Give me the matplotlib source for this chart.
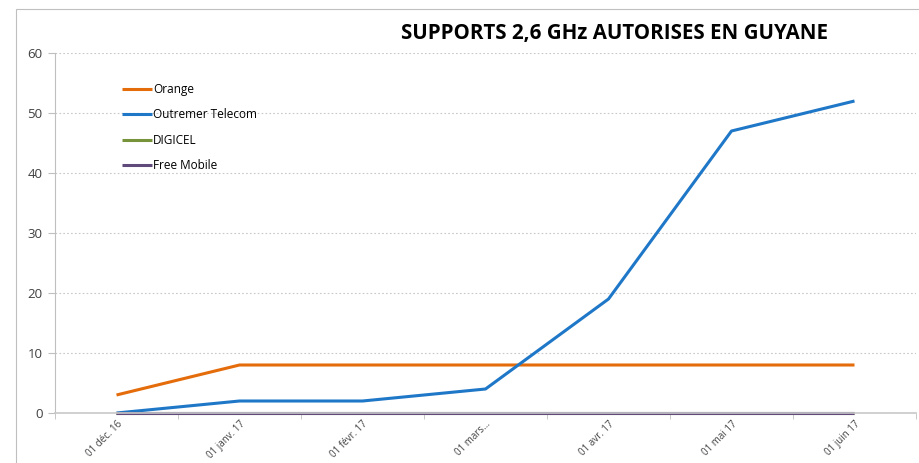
import matplotlib
matplotlib.use("Agg")
import matplotlib.pyplot as plt
from matplotlib.patches import Rectangle

months = ["01 déc. 16", "01 janv. 17", "01 févr. 17", "01 mars...",
          "01 avr. 17", "01 mai 17", "01 juin 17"]
orange = [3, 8, 8, 8, 8, 8, 8]
outremer = [0, 2, 2, 4, 19, 47, 52]
digicel = [0, 0, 0, 0, 0, 0, 0]
free_mobile = [0, 0, 0, 0, 0, 0, 0]

series = [
    ("Orange", orange, "#E46C0A"),
    ("Outremer Telecom", outremer, "#1F77C8"),
    ("DIGICEL", digicel, "#77933C"),
    ("Free Mobile", free_mobile, "#604A7B"),
]

plt.rcParams['font.family'] = ['Open Sans', 'DejaVu Sans']

fig = plt.figure(figsize=(9.2, 4.63), dpi=100)
# chart frame (only top and left edges fall inside the picture)
fig.patches.append(Rectangle((16 / 920, -0.05), 1.0, 1 - 9 / 463 + 0.05,
                             transform=fig.transFigure, fill=False,
                             edgecolor="#BFBFBF", linewidth=0.8))

ax = fig.add_axes([55 / 920, 1 - 413 / 463, 861 / 920, 360 / 463])
x = list(range(len(months)))
for name, vals, color in series:
    ax.plot(x, vals, color=color, linewidth=2.2, label=name, clip_on=False,
            solid_capstyle="butt")

ax.set_xlim(-0.5, len(months) - 0.5)
ax.set_ylim(0, 60)
ax.set_yticks(range(0, 61, 10))
ax.yaxis.grid(True, linestyle=(0, (1.5, 2)), color="#C8C8C8", linewidth=0.8)
ax.set_axisbelow(True)

ax.set_xticks(x)
ax.set_xticklabels(months, rotation=45, ha="right", rotation_mode="anchor",
                   fontsize=7, color="#404040")
ax.tick_params(axis="x", length=0, pad=4)
ax.set_xticks([i - 0.5 for i in range(len(months) + 1)], minor=True)
ax.tick_params(axis="x", which="minor", length=4, color="#BFBFBF")
ax.tick_params(axis="y", length=5, color="#BFBFBF", labelsize=9.5,
               labelcolor="#404040", pad=4)

for s in ["top", "right"]:
    ax.spines[s].set_visible(False)
ax.spines["left"].set_color("#BFBFBF")
ax.spines["bottom"].set_color("#C8C8C8")
ax.spines["bottom"].set_linewidth(1.2)

ax.legend(loc="upper left", bbox_to_anchor=(0.072, 0.93), frameon=False,
          fontsize=8.5, handlelength=2.6, handletextpad=0.05,
          labelspacing=1.05, borderaxespad=0)

fig.text(615 / 920, 1 - 33 / 463, "SUPPORTS 2,6 GHz AUTORISES EN GUYANE",
         ha="center", va="center", fontsize=14.8, fontweight="bold", color="#000000")

fig.savefig("out.png", dpi=100)
